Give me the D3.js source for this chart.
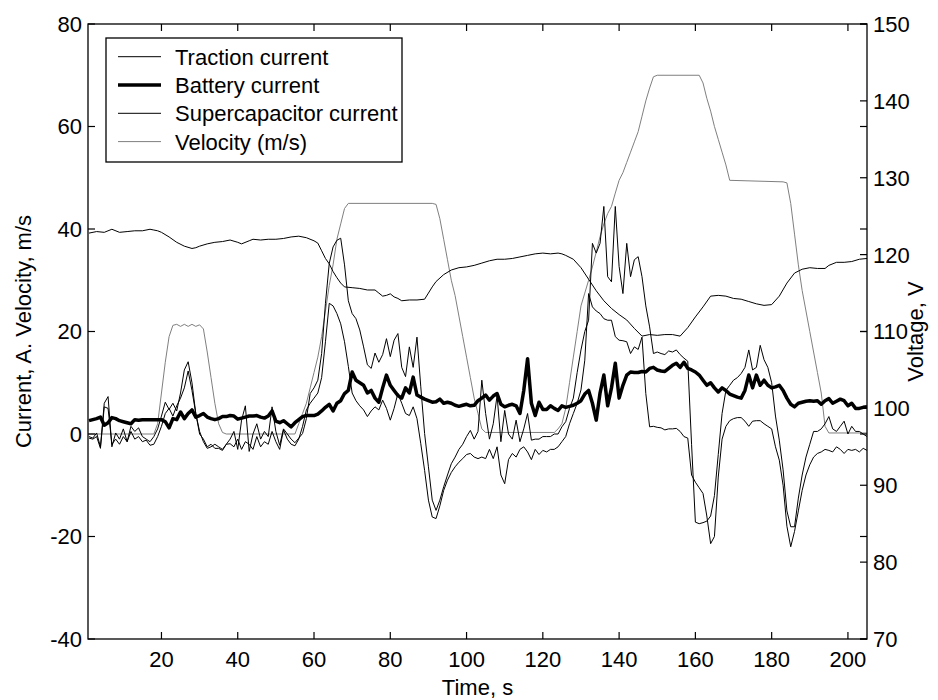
<!DOCTYPE html>
<html>
<head>
<meta charset="utf-8">
<script src="https://d3js.org/d3.v7.min.js"></script>
<style>
  body { margin: 0; background: #fff; }
  text { font-family: Arial, "Liberation Sans", sans-serif; fill: #000; }
</style>
</head>
<body>
<svg width="938" height="700"></svg>
<script>
// time base: one sample per second, t = 1 .. 205
var tStart = 1, tEnd = 205;

// traction current, A (one value per second)
var traction = [
  -0.5,-0.8,0.2,-2.5,6.0,7.3,-2.5,0.2,-1.0,1.0,
  -1.5,1.5,0.5,1.2,-0.5,-1.0,-1.5,-0.5,1.0,3.5,
  6.2,4.8,6.0,4.5,8.0,12.5,14.1,10.0,4.0,0.5,
  -1.5,-2.8,-2.5,-2.0,-2.5,-3.0,-2.0,-1.0,0.5,-3.0,
  2.7,5.5,-3.4,0.0,2.0,-1.0,0.5,-0.5,5.3,0.5,
  -2.2,1.0,0.0,-1.0,-1.7,-0.8,0.1,3.0,7.9,9.0,
  10.5,15.7,25.5,33.3,36.5,37.8,38.2,33.0,26.0,23.5,
  22.5,20.3,17.0,13.5,12.8,15.8,14.0,15.5,18.6,15.1,
  18.3,19.6,13.0,11.2,17.0,13.0,18.9,9.2,0.1,-6.4,
  -12.9,-14.9,-12.9,-10.3,-8.0,-5.8,-4.5,-3.0,-2.0,-0.5,
  0.7,-1.0,0.5,10.5,4.0,-1.0,2.0,7.5,-1.5,4.6,
  0.0,-1.0,2.7,-1.5,1.0,4.0,-1.2,-1.0,-1.0,-0.5,
  -0.5,-0.5,0.0,0.0,1.4,2.4,5.0,7.0,12.0,16.4,
  20.0,22.2,37.2,35.3,37.2,44.4,30.7,29.7,44.4,32.7,
  27.4,37.2,30.7,34.0,34.6,30.7,25.0,20.9,15.7,16.0,
  15.7,15.5,16.2,16.0,16.4,15.5,14.8,14.2,-2.0,-17.2,
  -17.5,-17.3,-17.0,-16.0,-12.0,-4.0,4.0,8.5,9.5,10.5,
  11.0,11.8,13.0,16.4,12.5,13.0,17.3,14.5,13.0,10.0,
  3.5,-1.2,-7.0,-15.0,-18.1,-18.1,-12.5,-8.0,-4.5,-2.0,
  0.5,0.5,1.0,2.0,3.4,1.0,0.5,1.5,2.5,0.0,
  1.5,0.5,0.5,0.0,-0.5
];

// battery current, A
var battery = [
  2.6,2.8,3.0,3.3,1.7,2.2,3.2,3.0,2.6,2.4,
  2.2,2.0,2.8,2.7,2.8,2.8,2.8,2.8,2.8,2.8,
  2.4,1.2,3.0,2.8,4.3,3.0,4.0,4.7,3.3,3.6,
  4.0,3.3,3.0,2.8,3.0,3.4,3.4,3.6,3.5,2.9,
  3.1,3.3,3.5,3.5,3.6,3.3,3.1,3.5,4.5,2.5,
  2.2,2.6,2.0,1.4,2.2,2.8,3.4,3.6,3.6,3.6,
  3.9,4.5,5.2,5.8,4.5,6.0,6.5,7.9,8.5,12.1,
  10.5,10.0,9.5,8.0,8.5,7.0,6.2,9.0,11.5,9.5,
  8.5,7.5,7.0,9.0,8.0,11.1,7.6,7.2,6.8,6.5,
  6.2,6.3,6.8,6.0,6.2,6.0,5.6,5.4,5.6,5.8,
  5.5,5.6,6.5,7.0,7.6,6.6,7.4,7.9,5.8,5.3,
  5.6,5.8,5.5,4.0,8.5,14.7,6.0,3.6,6.2,4.8,
  4.8,5.5,5.0,4.6,5.5,5.2,5.4,5.6,6.0,6.5,
  7.8,8.5,6.0,2.7,8.0,11.5,5.5,9.0,13.8,7.0,
  9.5,11.5,12.1,12.0,12.0,12.2,12.1,12.8,13.0,12.5,
  12.3,12.2,12.8,13.4,13.8,13.0,14.0,12.8,12.5,12.1,
  11.5,10.5,9.5,10.0,9.0,8.2,9.0,8.5,7.8,7.5,
  7.2,7.0,8.5,11.5,9.0,11.5,9.5,10.5,9.5,9.0,
  9.2,9.5,8.5,7.0,5.8,5.3,6.0,6.2,6.4,6.5,
  6.4,6.5,5.8,6.5,6.9,6.0,6.4,6.8,6.5,5.5,
  6.0,5.0,5.0,5.2,5.3
];

// supercapacitor current, A
var supercap = [
  -0.8,-1.0,-0.5,-2.8,5.3,5.0,-2.0,-1.0,-2.0,-0.5,
  -1.5,0.5,-1.0,-0.5,-1.5,-1.2,-2.2,-2.0,-0.5,1.5,
  4.0,5.0,3.5,5.5,7.0,9.0,12.3,8.5,4.0,0.0,
  -1.0,-2.5,-2.0,-2.8,-2.8,-3.2,-2.0,-1.9,-2.5,-1.0,
  -3.0,-1.5,-2.0,-3.0,-0.5,-2.5,-1.5,-2.0,0.5,-1.5,
  -3.0,0.8,-1.0,-2.0,-2.3,-1.0,1.5,4.7,6.0,7.0,
  8.0,11.0,18.0,25.5,25.0,23.5,21.5,18.0,13.2,8.0,
  6.5,5.5,4.7,3.4,4.5,5.3,4.7,6.6,5.0,2.7,
  5.0,7.9,6.0,4.0,3.6,5.3,3.0,-1.9,-7.1,-12.9,
  -16.2,-16.5,-14.0,-11.0,-9.0,-7.5,-6.4,-5.5,-4.8,-4.0,
  -3.8,-4.5,-4.8,-4.5,-4.8,-3.0,-4.8,-2.5,-8.0,-9.7,
  -5.0,-3.8,-4.5,-3.0,-2.5,-3.5,-5.0,-3.0,-4.0,-3.2,
  -3.5,-3.0,-3.0,-2.5,-1.5,-0.5,2.0,4.0,6.0,8.6,
  14.4,27.4,24.8,24.0,23.5,22.5,22.2,22.2,19.0,18.3,
  18.2,18.0,15.7,17.0,16.5,18.9,7.9,1.4,1.5,1.3,
  1.2,0.8,1.0,1.0,1.1,0.5,-0.5,-0.8,-8.0,-9.4,
  -10.5,-11.6,-16.0,-21.4,-20.0,-8.4,-1.0,1.5,2.6,3.0,
  3.2,3.2,2.5,1.5,2.5,2.6,2.6,2.0,1.5,1.0,
  -2.5,-5.1,-10.0,-18.0,-22.0,-19.0,-15.0,-11.0,-8.0,-6.0,
  -4.5,-3.8,-3.5,-3.0,-3.2,-3.5,-2.5,-3.0,-3.8,-3.0,
  -3.2,-3.0,-3.5,-2.8,-3.2
];

// velocity, m/s  [time, value]
var velocity = [
  [1,0],[18,0],[19,2],[20,8],[21,14],[22,19],[23,21.2],[24,21.4],[25,21.0],[26,21.4],
  [27,21.0],[28,21.4],[29,21.0],[30,21.3],[31,20.5],[32,16],[33,11],[34,6],[35,2],[36,0.3],
  [37,0],[55,0],[56,2],[57,4],[58,6],[59,9],[60,12],[61,15],[62,19],[63,24],
  [64,29],[65,33],[66,38],[67,41],[68,44],[69,45],[91,45],[92,44.8],[93,42],[94,38],
  [95,34],[96,30],[97,27],[98,23],[99,19],[100,15],[101,11],[102,7],[103,4],[104,1],
  [105,0.3],[123,0.3],[124,1],[125,2],[126,5],[127,10],[128,15],[129,20],[130,25],[131,27.5],
  [132,30],[133,32.6],[134,35.5],[135,38.5],[136,41],[137,43],[138,44.4],[139,47],[140,49.5],[141,51],
  [142,53],[143,55],[144,57],[145,59],[146,62],[147,65],[148,67.5],[149,69.7],[150,70],[161,70],
  [162,68.5],[163,65.5],[164,63],[165,60],[166,57.5],[167,55],[168,52.5],[169,49.5],[183,49.2],[184,49],
  [185,45],[186,39],[187,33],[188,28],[189,24],[190,20],[191,16],[192,12],[193,8],[194,1.5],
  [195,0.2],[205,0.2]
];

// pack voltage, V  [time, value]
var voltage = [
  [1,122.8],[3,123.0],[5,122.9],[7,123.3],[9,122.9],[11,123.0],[13,123.1],[15,123.1],[17,123.3],[18,123.2],
  [19,123.1],[20,122.9],[22,122.3],[24,121.6],[26,121.1],[28,120.8],[29,120.9],[30,121.1],[32,121.4],[34,121.6],
  [36,121.7],[38,121.9],[40,121.6],[41,121.4],[43,121.8],[44,122.0],[46,121.9],[48,122.0],[50,122.0],[52,122.1],
  [54,122.3],[56,122.4],[58,122.2],[60,121.8],[61,121.5],[62,120.5],[63,119.5],[64,118.8],[65,117.8],[66,117.0],
  [67,116.3],[68,115.8],[70,115.7],[72,115.6],[74,115.4],[76,115.4],[77,115.0],[78,114.6],[79,114.7],[80,114.9],
  [81,114.5],[82,114.3],[83,114.0],[85,114.1],[87,114.1],[89,114.2],[90,115.0],[91,115.8],[92,116.5],[94,117.4],
  [96,118.0],[98,118.3],[100,118.4],[102,118.6],[104,118.9],[106,119.2],[108,119.4],[110,119.4],[112,119.5],[114,119.7],
  [116,119.9],[118,120.1],[120,120.2],[122,120.1],[124,120.2],[125,120.1],[126,119.9],[128,119.4],[130,118.3],[132,116.8],
  [134,115.3],[136,114.0],[138,113.0],[140,112.2],[142,111.5],[144,110.4],[146,109.4],[148,109.6],[150,109.5],[152,109.6],
  [154,109.6],[156,109.4],[158,110.5],[160,111.9],[162,113.2],[164,114.6],[166,114.7],[168,114.6],[170,114.3],[172,114.2],
  [174,113.9],[176,113.6],[178,113.4],[180,113.5],[182,114.6],[184,116.3],[186,117.6],[188,118.1],[190,118.3],[192,118.2],
  [194,118.2],[195,118.6],[197,119.0],[199,119.0],[201,119.1],[203,119.4],[205,119.5]
];

var xTicks = [20, 40, 60, 80, 100, 120, 140, 160, 180, 200];
var yLeftTicks = [-40, -20, 0, 20, 40, 60, 80];
var yRightTicks = [70, 80, 90, 100, 110, 120, 130, 140, 150];
var legendNames = ["Traction current", "Battery current", "Supercapacitor current", "Velocity (m/s)"];

var box = { left: 88, right: 867, top: 24, bottom: 639 };
var svg = d3.select("svg");

var x = d3.scaleLinear().domain([tStart, tEnd]).range([box.left + 1, box.right]);
var yL = d3.scaleLinear().domain([-40, 80]).range([box.bottom, box.top]);
var yR = d3.scaleLinear().domain([70, 150]).range([box.bottom, box.top]);

var times = d3.range(tStart, tEnd + 1);

svg.append("clipPath").attr("id", "plotclip")
  .append("rect")
  .attr("x", box.left).attr("y", box.top)
  .attr("width", box.right - box.left).attr("height", box.bottom - box.top);

var plot = svg.append("g").attr("clip-path", "url(#plotclip)");

var lineL = d3.line().x(d => x(d[0])).y(d => yL(d[1]));
var lineR = d3.line().x(d => x(d[0])).y(d => yR(d[1]));

function pairs(vals) { return vals.map((v, i) => [times[i], v]); }

var series = [
  { data: velocity, line: lineL, color: "#7f7f7f", width: 1 },
  { data: voltage, line: lineR, color: "#000", width: 1 },
  { data: pairs(supercap), line: lineL, color: "#000", width: 1 },
  { data: pairs(traction), line: lineL, color: "#000", width: 1 },
  { data: pairs(battery), line: lineL, color: "#000", width: 3.5 }
];

plot.selectAll("path.series")
  .data(series)
  .enter()
  .append("path")
  .attr("class", "series")
  .attr("d", s => s.line(s.data))
  .style("fill", "none")
  .style("stroke", s => s.color)
  .style("stroke-width", s => s.width)
  .style("stroke-linejoin", "round");

// frame
svg.append("rect")
  .attr("x", box.left).attr("y", box.top)
  .attr("width", box.right - box.left).attr("height", box.bottom - box.top)
  .style("fill", "none").style("stroke", "#000").style("stroke-width", 1.3);

var tk = 7;
var ticks = svg.append("g").style("stroke", "#000").style("stroke-width", 1.2);

// bottom + mirrored top ticks
xTicks.forEach(function(t) {
  ticks.append("line").attr("x1", x(t)).attr("x2", x(t)).attr("y1", box.bottom).attr("y2", box.bottom - tk);
  ticks.append("line").attr("x1", x(t)).attr("x2", x(t)).attr("y1", box.top).attr("y2", box.top + tk);
});
// left ticks, mirrored on the right
yLeftTicks.forEach(function(v) {
  ticks.append("line").attr("x1", box.left).attr("x2", box.left + tk).attr("y1", yL(v)).attr("y2", yL(v));
  ticks.append("line").attr("x1", box.right).attr("x2", box.right - tk).attr("y1", yL(v)).attr("y2", yL(v));
});
// right axis ticks
yRightTicks.forEach(function(v) {
  ticks.append("line").attr("x1", box.right).attr("x2", box.right - tk).attr("y1", yR(v)).attr("y2", yR(v));
});

var fs = 22;
svg.selectAll("text.xt").data(xTicks).enter().append("text")
  .attr("class", "xt")
  .attr("x", d => x(d)).attr("y", box.bottom + 28)
  .attr("text-anchor", "middle").style("font-size", fs + "px")
  .text(d => d);

svg.selectAll("text.yl").data(yLeftTicks).enter().append("text")
  .attr("class", "yl")
  .attr("x", box.left - 6).attr("y", d => yL(d)).attr("dy", "0.36em")
  .attr("text-anchor", "end").style("font-size", fs + "px")
  .text(d => d);

svg.selectAll("text.yr").data(yRightTicks).enter().append("text")
  .attr("class", "yr")
  .attr("x", box.right + 6).attr("y", d => yR(d)).attr("dy", "0.36em")
  .attr("text-anchor", "start").style("font-size", fs + "px")
  .text(d => d);

svg.append("text")
  .attr("x", (box.left + box.right) / 2).attr("y", 695)
  .attr("text-anchor", "middle").style("font-size", fs + "px")
  .text("Time, s");

svg.append("text")
  .attr("transform", "translate(31," + ((box.top + box.bottom) / 2) + ") rotate(-90)")
  .attr("text-anchor", "middle").style("font-size", fs + "px")
  .text("Current, A. Velocity, m/s");

svg.append("text")
  .attr("transform", "translate(923," + ((box.top + box.bottom) / 2) + ") rotate(-90)")
  .attr("text-anchor", "middle").style("font-size", fs + "px")
  .text("Voltage, V");

// legend
var legendStyles = [
  { color: "#000", width: 1 },
  { color: "#000", width: 3.5 },
  { color: "#000", width: 1 },
  { color: "#7f7f7f", width: 1 }
];
var lg = svg.append("g");
lg.append("rect")
  .attr("x", 106).attr("y", 38).attr("width", 296).attr("height", 124)
  .style("fill", "#fff").style("stroke", "#000").style("stroke-width", 1.3);

var rows = lg.selectAll("g.row").data(legendNames).enter().append("g")
  .attr("class", "row")
  .attr("transform", (d, i) => "translate(0," + (56.7 + i * 28.3) + ")");
rows.append("line")
  .attr("x1", 118).attr("x2", 161).attr("y1", 0).attr("y2", 0)
  .style("stroke", (d, i) => legendStyles[i].color)
  .style("stroke-width", (d, i) => legendStyles[i].width);
rows.append("text")
  .attr("x", 175).attr("y", 0).attr("dy", "0.36em")
  .style("font-size", fs + "px")
  .text(d => d);
</script>
</body>
</html>
